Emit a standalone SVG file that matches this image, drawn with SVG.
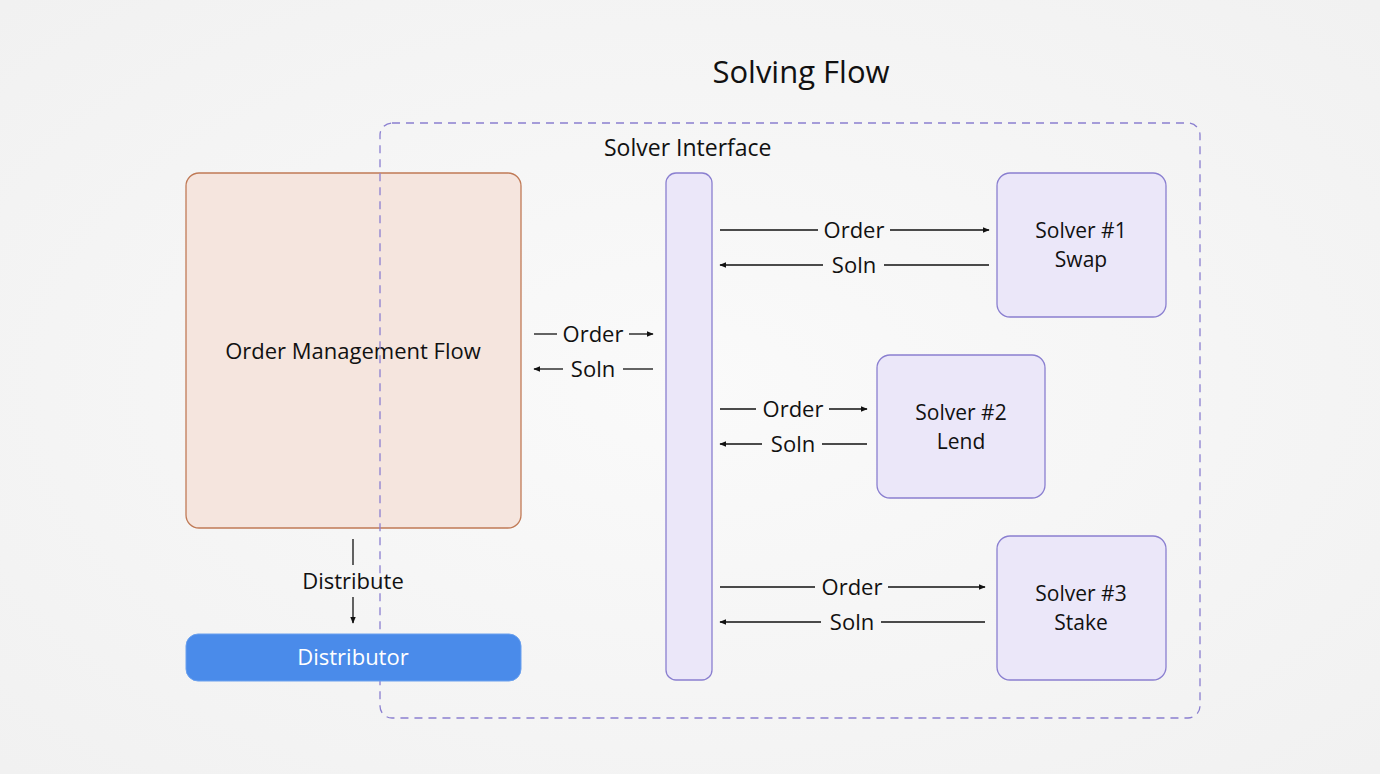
<svg xmlns="http://www.w3.org/2000/svg" width="1380" height="774" viewBox="0 0 1380 774">
<defs>
<radialGradient id="bg" cx="50%" cy="50%" r="70%">
<stop offset="0" stop-color="#fafafa"/><stop offset="1" stop-color="#f1f1f1"/>
</radialGradient>
<marker id="ah" viewBox="0 0 10 10" refX="9" refY="5" markerWidth="7" markerHeight="7" orient="auto-start-reverse" markerUnits="userSpaceOnUse">
<path d="M0,1 L10,5 L0,9 z" fill="#111"/>
</marker>
<style>
text{font-family:"Open Sans","Noto Sans",sans-serif;fill:#111;}
.lbl{font-size:22px;text-anchor:middle;dominant-baseline:central;}
.ml{font-size:21px;text-anchor:middle;dominant-baseline:central;}
.ln{stroke:#111;stroke-width:1.3;fill:none;}
.solver rect{fill:#ebe7f9;stroke:#8a7fd0;stroke-width:1.3;}
</style>
</defs>
<rect width="1380" height="774" fill="url(#bg)"/>
<text x="801" y="71" style="font-size:31px;text-anchor:middle;dominant-baseline:central;">Solving Flow</text>

<g id="omf">
<rect x="186" y="173" width="335" height="355" rx="13" fill="#f5e5de" stroke="#c07a56" stroke-width="1.3"/>
<text class="lbl" x="353" y="350">Order Management Flow</text>
</g>
<g id="solver-boundary">
<rect x="380" y="123" width="820" height="595" rx="12" fill="none" stroke="#8a7fd0" stroke-width="1.3" stroke-dasharray="8,6"/>
<text x="604" y="147" style="font-size:23px;dominant-baseline:central;">Solver Interface</text>
</g>
<g id="distributor">
<rect x="186" y="634" width="335" height="47" rx="12" fill="#4a8bea" stroke="#6aa0ee" stroke-width="1"/>
<text class="lbl" x="353" y="656" style="fill:#fff">Distributor</text>
</g>
<g id="interface" class="solver">
<rect x="666" y="173" width="46" height="507" rx="10"/>
</g>
<g id="solver1" class="solver">
<rect x="997" y="173" width="169" height="144" rx="13"/>
<text class="ml" x="1081" y="230">Solver #1</text>
<text class="ml" x="1081" y="259">Swap</text>
</g>
<g id="solver2" class="solver">
<rect x="877" y="355" width="168" height="143" rx="13"/>
<text class="ml" x="961" y="412">Solver #2</text>
<text class="ml" x="961" y="441">Lend</text>
</g>
<g id="solver3" class="solver">
<rect x="997" y="536" width="169" height="144" rx="13"/>
<text class="ml" x="1081" y="593">Solver #3</text>
<text class="ml" x="1081" y="622">Stake</text>
</g>

<g id="connectors">
<line class="ln" x1="353" y1="539" x2="353" y2="565"/>
<text class="lbl" x="353" y="580">Distribute</text>
<line class="ln" x1="353" y1="597" x2="353" y2="623" marker-end="url(#ah)"/>
<line class="ln" x1="534" y1="334" x2="557" y2="334"/>
<text class="lbl" x="593" y="333">Order</text>
<line class="ln" x1="629" y1="334" x2="653" y2="334" marker-end="url(#ah)"/>
<line class="ln" x1="534" y1="369" x2="563" y2="369" marker-start="url(#ah)"/>
<text class="lbl" x="593" y="368">Soln</text>
<line class="ln" x1="623" y1="369" x2="653" y2="369"/>
<line class="ln" x1="720" y1="230" x2="818" y2="230"/>
<text class="lbl" x="854" y="229">Order</text>
<line class="ln" x1="890" y1="230" x2="989" y2="230" marker-end="url(#ah)"/>
<line class="ln" x1="720" y1="265" x2="823" y2="265" marker-start="url(#ah)"/>
<text class="lbl" x="854" y="264">Soln</text>
<line class="ln" x1="884" y1="265" x2="989" y2="265"/>
<line class="ln" x1="720" y1="409" x2="756" y2="409"/>
<text class="lbl" x="793" y="408">Order</text>
<line class="ln" x1="829" y1="409" x2="867" y2="409" marker-end="url(#ah)"/>
<line class="ln" x1="720" y1="444" x2="762" y2="444" marker-start="url(#ah)"/>
<text class="lbl" x="793" y="443">Soln</text>
<line class="ln" x1="822" y1="444" x2="867" y2="444"/>
<line class="ln" x1="720" y1="587" x2="815" y2="587"/>
<text class="lbl" x="852" y="586">Order</text>
<line class="ln" x1="888" y1="587" x2="985" y2="587" marker-end="url(#ah)"/>
<line class="ln" x1="720" y1="622" x2="821" y2="622" marker-start="url(#ah)"/>
<text class="lbl" x="852" y="621">Soln</text>
<line class="ln" x1="881" y1="622" x2="985" y2="622"/>
</g>
</svg>
